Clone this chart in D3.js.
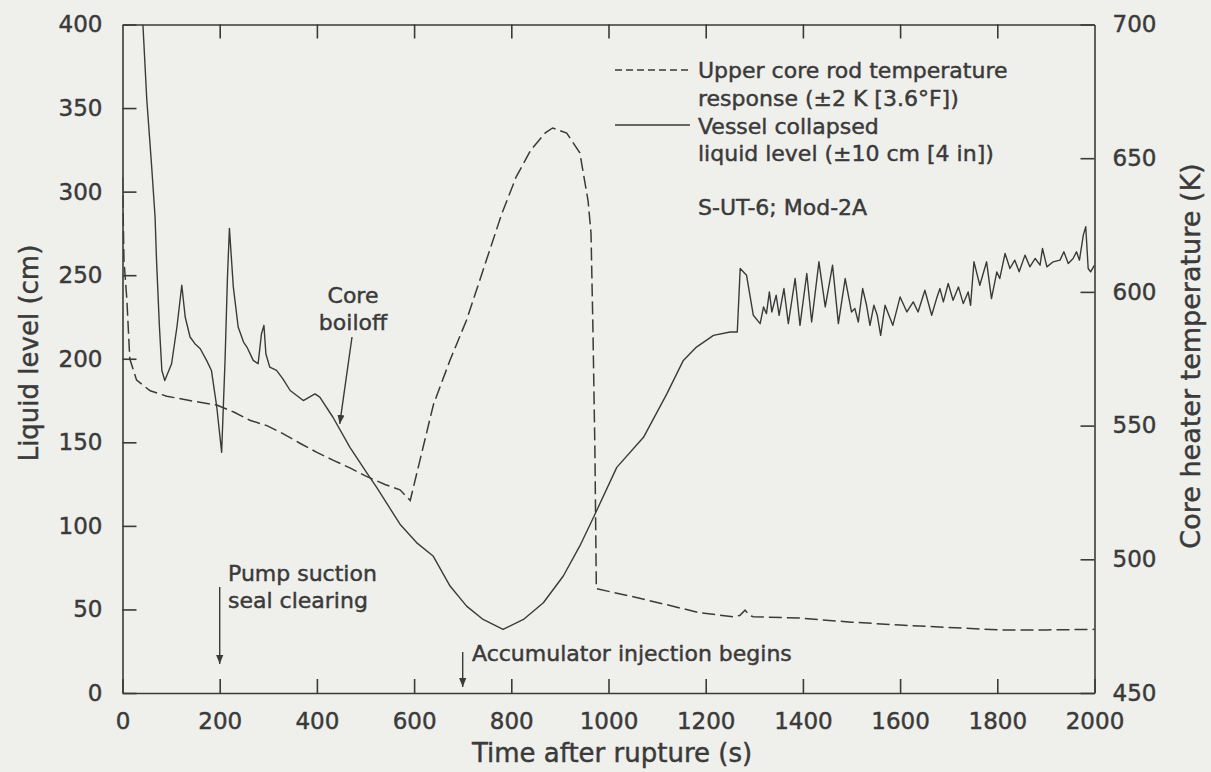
<!DOCTYPE html>
<html><head><meta charset="utf-8">
<script src="https://cdn.jsdelivr.net/npm/d3@7"></script>
<style>
html,body{margin:0;padding:0;background:#efefec;}
svg{display:block;}
svg text{stroke:#3a3a3a;stroke-width:0.45px;}
</style>
</head><body>
<svg id="c" width="1211" height="772"></svg>
<script>
// ---- data ----
const xTicks = [0,200,400,600,800,1000,1200,1400,1600,1800,2000];
const leftTicks = [0,50,100,150,200,250,300,350,400];
const rightTicks = [450,500,550,600,650,700];

// Vessel collapsed liquid level (cm) vs time (s)
const levelSeries = [
 [42,400],[50,355],[60,315],[67,285],[70,259],[76,219],[81,193],[87,187],[101,197],[112,219],
 [122,244],[129,225],[139,213],[149,209],[160,206],[173,199],[183,193],[194,171],[204,144],[211,199],
 [216,249],[220,278],[228,243],[238,219],[249,210],[256,207],[269,199],[279,197],[286,215],[291,220],
 [295,203],[303,195],[317,193],[330,188],[345,181],[372,175],[396,179],[406,177],[433,165],[468,147],
 [502,132],[523,123],[571,101],[605,90],[639,82],[674,64],[708,52],[742,44],[783,38],[825,44],
 [866,54],[907,70],[941,88],[969,105],[1017,135],[1072,153],[1120,179],[1154,199],[1181,207],[1216,214],
 [1250,216],[1265,216],[1271,254],[1284,250],[1298,226],[1312,221],[1319,231],[1325,227],[1331,240],[1336,228],
 [1345,238],[1351,226],[1361,242],[1370,221],[1384,248],[1394,220],[1408,251],[1418,222],[1433,258],[1446,231],
 [1461,256],[1473,221],[1487,248],[1500,228],[1507,230],[1514,222],[1523,242],[1531,232],[1538,220],[1546,232],
 [1553,226],[1560,214],[1569,232],[1585,220],[1600,237],[1614,228],[1627,234],[1637,228],[1651,241],[1665,226],
 [1675,236],[1682,242],[1689,234],[1699,245],[1709,235],[1720,243],[1730,233],[1740,240],[1745,232],[1752,258],
 [1764,244],[1778,258],[1788,236],[1799,252],[1805,248],[1816,263],[1826,254],[1836,259],[1845,252],[1857,262],
 [1867,255],[1878,260],[1888,256],[1893,266],[1902,255],[1915,258],[1929,259],[1937,264],[1946,257],[1956,260],
 [1963,264],[1969,259],[1977,274],[1982,279],[1987,254],[1992,252],[2000,256]
];

// Upper core rod temperature (K) vs time (s)
const tempSeries = [
 [0,643],[3,612],[9,597],[15,575],[29,567],[57,563],[91,561],[150,559],[194,557.7],[230,555],
 [262,552],[297,550],[330,547],[365,543.4],[400,540],[434,537],[470,534],[502,531],[540,528],[571,526],
 [592,522],[612,537],[640,558],[674,574.5],[708,589.5],[749,612],[780,629],[810,643],[840,653],[870,659.5],
 [885,661.3],[914,659.4],[941,652],[958,634],[964,622],[968,586],[972,541],[975,489],[1051,486],[1120,483],
 [1188,480],[1257,478.5],[1270,479],[1281,481],[1290,479],[1298,478.5],[1394,478],[1500,476.5],[1600,475.4],
 [1700,474.5],[1805,473.6],[1900,473.6],[2000,473.8]
];

const legendDashed = ["Upper core rod temperature", "response (\u00B12 K [3.6\u00B0F])"];
const legendSolid = ["Vessel collapsed", "liquid level (\u00B110 cm [4 in])"];
const testLabel = "S-UT-6; Mod-2A";

// ---- layout ----
const ink = "#3a3a3a";
const FONT = "'DejaVu Sans', sans-serif";
const m = {l:122.5, t:24.5, r:1094.5, b:693};
const svg = d3.select("#c");
svg.append("rect").attr("width",1211).attr("height",772).attr("fill","#efefec");

const x = d3.scaleLinear().domain([0,2000]).range([m.l,m.r]);
const yL = d3.scaleLinear().domain([0,400]).range([m.b,m.t]);
const yR = d3.scaleLinear().domain([450,700]).range([m.b,m.t]);

function styleAxis(g, fs){
  g.attr("font-family",FONT).attr("font-size",fs);
  g.selectAll(".domain,.tick line").attr("stroke",ink).attr("stroke-width",1.6);
  g.selectAll("text").attr("fill",ink);
}
const inner = t => t.slice(1,-1);

svg.append("g").attr("transform",`translate(0,${m.b})`)
  .call(d3.axisBottom(x).tickValues(xTicks).tickSizeInner(-14).tickSizeOuter(0).tickPadding(20).tickFormat(d3.format("d")))
  .call(g=>styleAxis(g,23));
svg.append("g").attr("transform",`translate(0,${m.t})`)
  .call(d3.axisTop(x).tickValues(inner(xTicks)).tickSizeInner(-14).tickSizeOuter(0).tickFormat(""))
  .call(g=>styleAxis(g,23));
svg.append("g").attr("transform",`translate(${m.l},0)`)
  .call(d3.axisLeft(yL).tickValues(leftTicks).tickSizeInner(-14).tickSizeOuter(0).tickPadding(20).tickFormat(d3.format("d")))
  .call(g=>styleAxis(g,23));
svg.append("g").attr("transform",`translate(${m.r},0)`)
  .call(d3.axisRight(yR).tickValues(rightTicks).tickSizeInner(-14).tickSizeOuter(0).tickPadding(18).tickFormat(d3.format("d")))
  .call(g=>styleAxis(g,23));

// axis titles
svg.append("text").attr("x",612).attr("y",753).attr("dy","0.35em").attr("text-anchor","middle")
  .attr("font-family",FONT).attr("font-size",26).attr("fill",ink).text("Time after rupture (s)");
svg.append("text").attr("transform","translate(29,353) rotate(-90)").attr("dy","0.35em").attr("text-anchor","middle")
  .attr("font-family",FONT).attr("font-size",26).attr("fill",ink).text("Liquid level (cm)");
svg.append("text").attr("transform","translate(1191,356) rotate(-90)").attr("dy","0.35em").attr("text-anchor","middle")
  .attr("font-family",FONT).attr("font-size",27).attr("fill",ink).text("Core heater temperature (K)");

// clip
svg.append("clipPath").attr("id","plot").append("rect")
  .attr("x",m.l).attr("y",m.t).attr("width",m.r-m.l).attr("height",m.b-m.t);

const lineL = d3.line().x(d=>x(d[0])).y(d=>yL(d[1]));
const lineR = d3.line().x(d=>x(d[0])).y(d=>yR(d[1]));

svg.append("path").datum(tempSeries).attr("d",lineR).attr("clip-path","url(#plot)")
  .attr("fill","none").attr("stroke",ink).attr("stroke-width",1.5).attr("stroke-dasharray","13,5");
svg.append("path").datum(levelSeries).attr("d",lineL).attr("clip-path","url(#plot)")
  .attr("fill","none").attr("stroke",ink).attr("stroke-width",1.4).attr("stroke-linejoin","round");

// legend
const lg = svg.append("g").attr("font-family",FONT).attr("font-size",22).attr("fill",ink);
lg.append("line").attr("x1",615).attr("x2",690).attr("y1",70).attr("y2",70)
  .attr("stroke",ink).attr("stroke-width",1.5).attr("stroke-dasharray","7,4");
lg.append("line").attr("x1",615).attr("x2",690).attr("y1",125).attr("y2",125)
  .attr("stroke",ink).attr("stroke-width",1.5);
[[legendDashed[0],70],[legendDashed[1],98],[legendSolid[0],126],[legendSolid[1],153],[testLabel,207]]
  .forEach(([t,y])=>lg.append("text").attr("x",698).attr("y",y).attr("dy","0.35em").text(t));

// annotations
const defs = svg.append("defs");
defs.append("marker").attr("id","ah").attr("viewBox","0 0 10 10").attr("refX",10).attr("refY",5)
  .attr("markerWidth",9).attr("markerHeight",9).attr("markerUnits","userSpaceOnUse").attr("orient","auto")
  .append("path").attr("d","M0,1 L10,5 L0,9 Z").attr("fill",ink);

const an = svg.append("g").attr("font-family",FONT).attr("font-size",22).attr("fill",ink);
// Core boiloff
an.append("text").attr("x",353).attr("y",295).attr("dy","0.35em").attr("text-anchor","middle").text("Core");
an.append("text").attr("x",353).attr("y",322).attr("dy","0.35em").attr("text-anchor","middle").text("boiloff");
an.append("line").attr("x1",352).attr("y1",337).attr("x2",x(447)).attr("y2",yL(161))
  .attr("stroke",ink).attr("stroke-width",1.4).attr("marker-end","url(#ah)");
// Pump suction seal clearing
an.append("text").attr("x",228).attr("y",573).attr("dy","0.35em").text("Pump suction");
an.append("text").attr("x",228).attr("y",600).attr("dy","0.35em").text("seal clearing");
an.append("line").attr("x1",x(200)).attr("y1",587).attr("x2",x(200)).attr("y2",664)
  .attr("stroke",ink).attr("stroke-width",1.4).attr("marker-end","url(#ah)");
// Accumulator injection begins
an.append("text").attr("x",472).attr("y",653).attr("dy","0.35em").text("Accumulator injection begins");
an.append("line").attr("x1",x(700)).attr("y1",652).attr("x2",x(700)).attr("y2",687)
  .attr("stroke",ink).attr("stroke-width",1.4).attr("marker-end","url(#ah)");
</script>
</body></html>
